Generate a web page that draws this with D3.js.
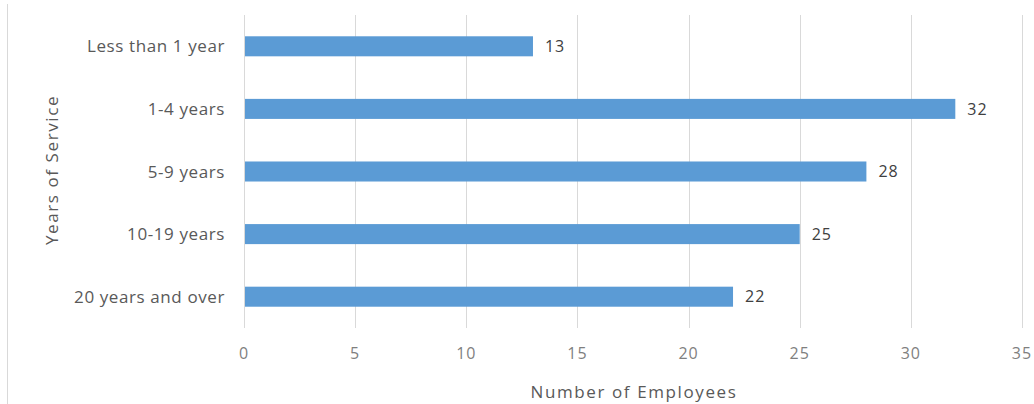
<!DOCTYPE html>
<html>
<head>
<meta charset="utf-8">
<script src="https://cdn.jsdelivr.net/npm/d3@7"></script>
<style>
  html, body { margin: 0; padding: 0; background: #fff; }
  svg { display: block; font-family: "Open Sans", "Noto Sans", sans-serif; }
</style>
</head>
<body>
<svg id="chart" width="1034" height="404"></svg>
<script>
// Employees grouped by length of service
const categories = ["Less than 1 year", "1-4 years", "5-9 years", "10-19 years", "20 years and over"];
const employees = [13, 32, 28, 25, 22];
const xTicks = [0, 5, 10, 15, 20, 25, 30, 35];

const svg = d3.select("#chart");
const margin = { left: 244, right: 12, top: 15, bottom: 76 };
const W = 1034, H = 404;

const x = d3.scaleLinear().domain([0, 35]).range([margin.left, W - margin.right]);
const y = d3.scaleBand().domain(categories).range([margin.top, H - margin.bottom]).paddingInner(0.68).paddingOuter(0.34);

// outer frame edge on the left
svg.append("line")
  .attr("x1", 7.5).attr("x2", 7.5).attr("y1", 4).attr("y2", H)
  .attr("stroke", "#d9d9d9").attr("stroke-width", 1);

// vertical gridlines
svg.append("g").selectAll("line").data(xTicks).join("line")
  .attr("x1", d => Math.round(x(d)) + 0.5).attr("x2", d => Math.round(x(d)) + 0.5)
  .attr("y1", margin.top).attr("y2", H - margin.bottom)
  .attr("stroke", "#d9d9d9").attr("stroke-width", 1);

// x tick labels
svg.append("g").selectAll("text").data(xTicks).join("text")
  .attr("x", d => x(d)).attr("y", 359)
  .attr("text-anchor", "middle")
  .attr("font-size", 16).attr("letter-spacing", 1).attr("fill", "#7f7f7f")
  .text(d => d);

// bars
svg.append("g").selectAll("rect").data(categories).join("rect")
  .attr("x", x(0) + 1)
  .attr("y", d => y(d))
  .attr("width", (d, i) => x(employees[i]) - x(0) - 1)
  .attr("height", y.bandwidth())
  .attr("fill", "#5b9bd5");

// value labels
svg.append("g").selectAll("text").data(categories).join("text")
  .attr("x", (d, i) => x(employees[i]) + 12)
  .attr("y", d => y(d) + y.bandwidth() / 2)
  .attr("dy", "0.36em")
  .attr("font-size", 16).attr("letter-spacing", 1).attr("fill", "#404040")
  .text((d, i) => employees[i]);

// category labels
svg.append("g").selectAll("text").data(categories).join("text")
  .attr("x", 225)
  .attr("y", d => y(d) + y.bandwidth() / 2)
  .attr("dy", "0.36em")
  .attr("text-anchor", "end")
  .attr("font-size", 17).attr("letter-spacing", 0.6).attr("fill", "#595959")
  .text(d => d);

// axis titles
svg.append("text")
  .attr("x", 634).attr("y", 398)
  .attr("text-anchor", "middle")
  .attr("font-size", 17).attr("letter-spacing", 1.6).attr("fill", "#595959")
  .text("Number of Employees");

svg.append("text")
  .attr("transform", "translate(58,170) rotate(-90)")
  .attr("text-anchor", "middle")
  .attr("font-size", 17).attr("letter-spacing", 1.6).attr("fill", "#595959")
  .text("Years of Service");
</script>
</body>
</html>
